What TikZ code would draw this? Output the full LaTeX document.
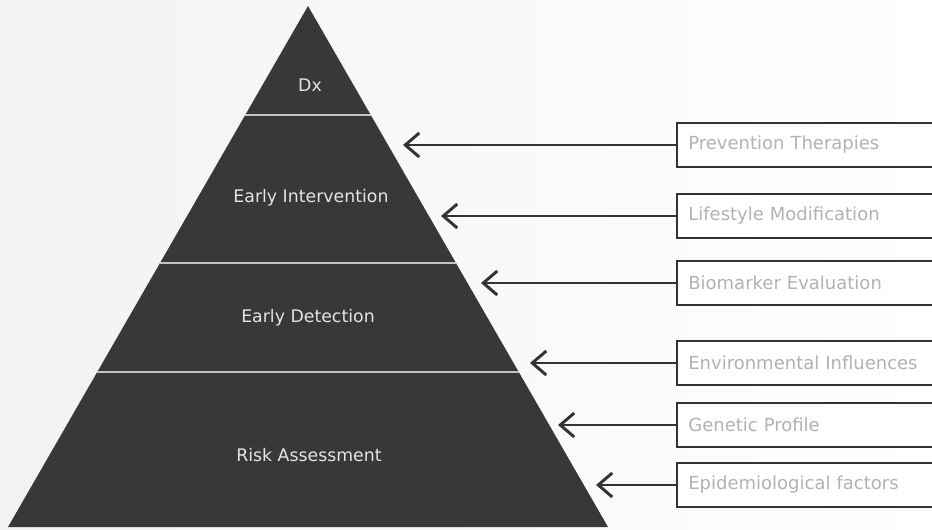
\documentclass[tikz,border=0pt]{standalone}
\usepackage{fontspec}
\setmainfont{DejaVu Sans}
\usetikzlibrary{arrows.meta,calc}
\definecolor{pyr}{HTML}{383838}
\definecolor{edgec}{HTML}{333333}
\definecolor{boxtxt}{HTML}{B2B2B2}
\definecolor{sepc}{HTML}{C4C4C4}
\definecolor{pyrtxt}{HTML}{E4E4E4}
\definecolor{bgc}{HTML}{F2F2F2}
\begin{document}
\begin{tikzpicture}[x=0.75pt,y=-0.75pt,
  boxnode/.style={draw=edgec, line width=1.5pt, fill=white, anchor=west,
    minimum height=33pt, text width=184pt, inner xsep=8.5pt, align=left,
    text=boxtxt, font=\fontsize{13.5}{16}\selectfont},
  pyrlabel/.style={text=pyrtxt, font=\fontsize{13}{15}\selectfont},
  sepline/.style={draw=sepc, line width=1.4pt},
  arr/.style={draw=edgec, line width=2.2pt,
    -{Straight Barb[length=10.5pt,width=18pt]}}]
\useasboundingbox (0,0) rectangle (932,529);
\clip (0,0) rectangle (932,529);
\shade[left color=bgc, right color=white] (0,0) rectangle (932,529);
% pyramid
\coordinate (apex) at (308,6);
\coordinate (bl) at (8,527);
\coordinate (br) at (608,527);
\fill[pyr] (apex) -- (br) -- (bl) -- cycle;
\draw[sepline] ($(apex)!0.2092!(bl)$) -- ($(apex)!0.2092!(br)$);
\draw[sepline] ($(apex)!0.4933!(bl)$) -- ($(apex)!0.4933!(br)$);
\draw[sepline] ($(apex)!0.7025!(bl)$) -- ($(apex)!0.7025!(br)$);
\node[pyrlabel] (dx) at (310,85) {Dx};
\node[pyrlabel] (ei) at (311,198) {Early Intervention};
\node[pyrlabel] (ed) at (308,318) {Early Detection};
\node[pyrlabel] (ra) at (309,455) {Risk Assessment};
% boxes
\node[boxnode] (b1) at (676,145) {Prevention Therapies};
\node[boxnode] (b2) at (676,216) {Lifestyle Modification};
\node[boxnode] (b3) at (676,283) {Biomarker Evaluation};
\node[boxnode] (b4) at (676,363) {Environmental Influences};
\node[boxnode] (b5) at (676,425) {Genetic Profile};
\node[boxnode] (b6) at (676,485) {Epidemiological factors};
% arrow targets
\coordinate (t1) at (403,145);
\coordinate (t2) at (441,214);
\coordinate (t3) at (481,284);
\coordinate (t4) at (530,364);
\coordinate (t5) at (558,425);
\coordinate (t6) at (596,490);
\draw[arr] (b1.west) -- (t1);
\draw[arr] (b2.west) -- (b2.west -| t2);
\draw[arr] (b3.west) -- (b3.west -| t3);
\draw[arr] (b4.west) -- (b4.west -| t4);
\draw[arr] (b5.west) -- (b5.west -| t5);
\draw[arr] (b6.west) -- (b6.west -| t6);
\end{tikzpicture}
\end{document}
